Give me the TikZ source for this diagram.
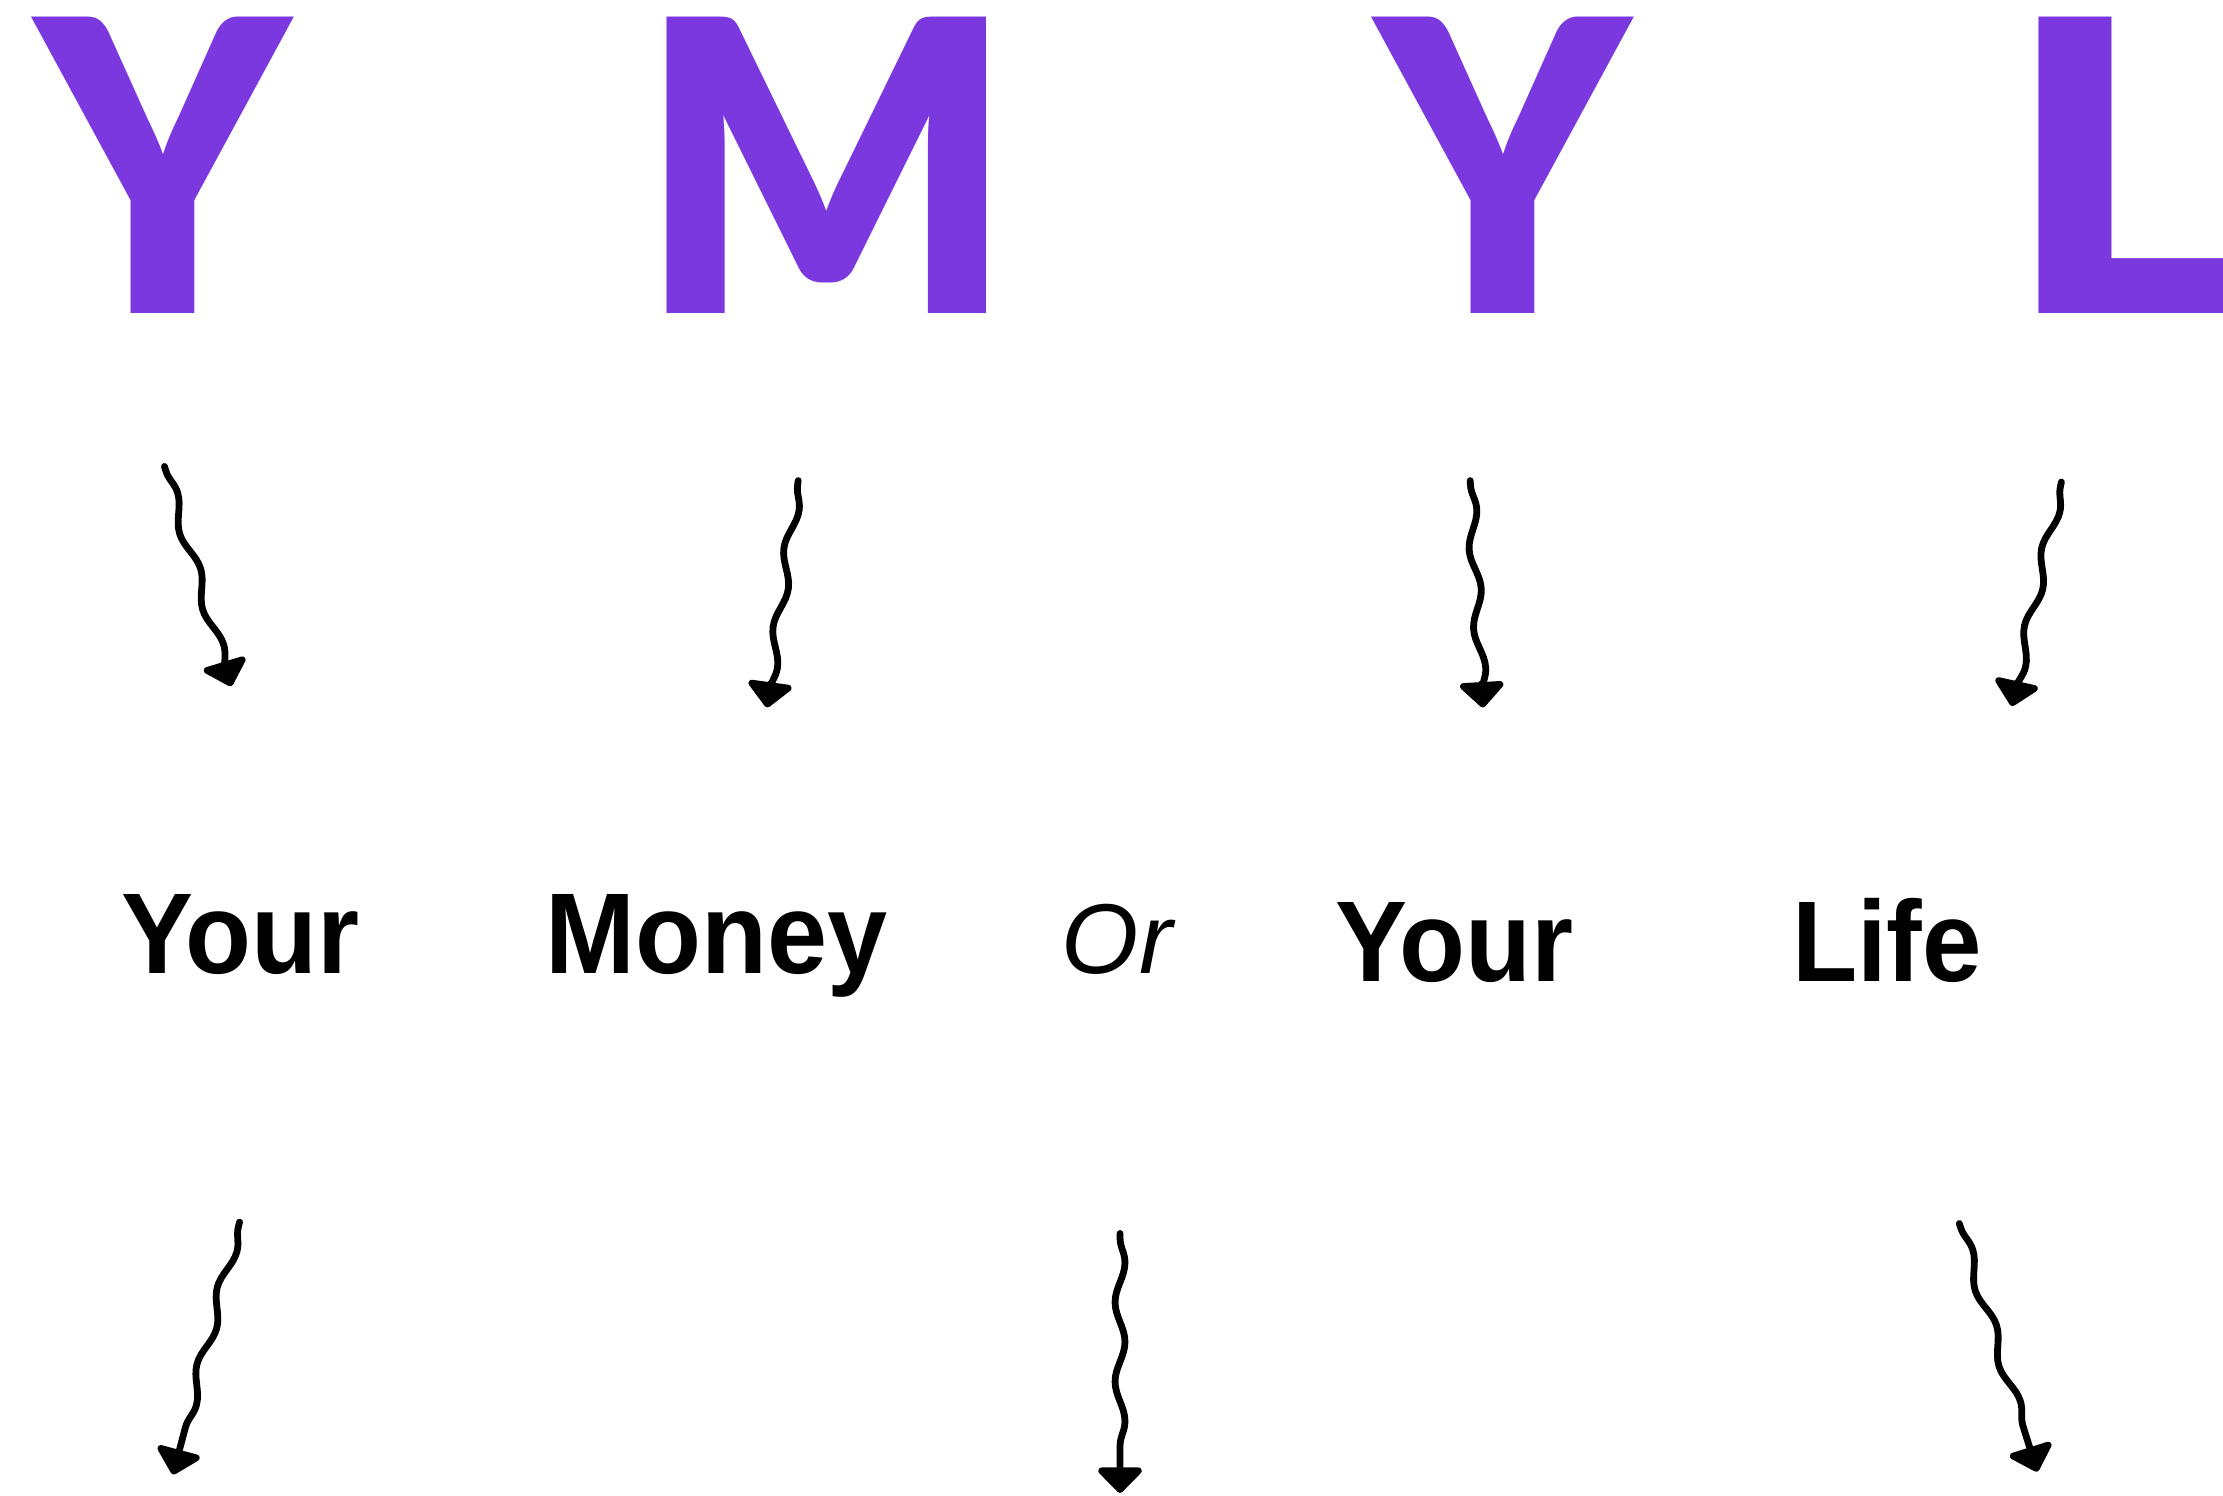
\documentclass[tikz,border=0pt]{standalone}
\usepackage{fontspec}
\setmainfont{Liberation Sans}
\newfontfamily\bigfont{Lato Black}
\usetikzlibrary{decorations.pathmorphing,arrows.meta}
\definecolor{ymylpurple}{HTML}{7B38DF}
\tikzset{
  bigletter/.style={inner sep=0pt, outer sep=0pt, anchor=south west, text=ymylpurple},
  word/.style={inner sep=0pt, outer sep=0pt, anchor=base west, text=black},
  wavy/.style={line width=4.8pt, line cap=round, line join=round, decorate,
    decoration={snake, amplitude=3.5pt, segment length=56pt, pre length=3pt, post length=10pt},
    -{Triangle[width=36pt,length=19pt,round]}}
}
\begin{document}
\begin{tikzpicture}[x=1pt,y=-1pt]
\useasboundingbox (0,0) rectangle (1568,1055);
\clip (0,0) rectangle (1568,1055);
% big letters
\node[bigletter] (lY1) at (26,221) {\resizebox{178pt}{209pt}{\bigfont Y}};
\node[bigletter] (lM) at (451,221) {\resizebox{264pt}{209pt}{\bigfont M}};
\node[bigletter] (lY2) at (971,221) {\resizebox{178pt}{209pt}{\bigfont Y}};
\node[bigletter] (lL) at (1417,221) {\resizebox{160pt}{209pt}{\bigfont L}};
% words
\node[word] (wYour1) at (86,687) {\scalebox{0.94}[1]{\fontsize{81}{81}\selectfont\bfseries Your}};
\node[word] (wMoney) at (385,687) {\scalebox{0.94}[1]{\fontsize{81}{81}\selectfont\bfseries Money}};
\node[word] (wOr) at (749,687) {\fontsize{70}{70}\selectfont\itshape Or};
\node[word] (wYour2) at (942,692) {\scalebox{0.94}[1]{\fontsize{81}{81}\selectfont\bfseries Your}};
\node[word] (wLife) at (1264,692) {\scalebox{0.93}[1]{\fontsize{81}{81}\selectfont\bfseries Life}};
% arrow ends
\coordinate (a1s) at (116,329); \coordinate (a1e) at (163,484);
\coordinate (a2s) at (563,339); \coordinate (a2e) at (541,499);
\coordinate (a3s) at (1037,339); \coordinate (a3e) at (1046,499);
\coordinate (a4s) at (1454,340); \coordinate (a4e) at (1419,498);
\coordinate (a5s) at (169,862); \coordinate (a5e) at (122,1040);
\coordinate (a6s) at (790,870); \coordinate (a6e) at (790,1053);
\coordinate (a7s) at (1382,863); \coordinate (a7e) at (1437,1038);
\draw[wavy] (a1s) -- (a1e);
\draw[wavy] (a2s) -- (a2e);
\draw[wavy] (a3s) -- (a3e);
\draw[wavy] (a4s) -- (a4e);
\draw[wavy] (a5s) -- (a5e);
\draw[wavy] (a6s) -- (a6e);
\draw[wavy] (a7s) -- (a7e);
\end{tikzpicture}
\end{document}
